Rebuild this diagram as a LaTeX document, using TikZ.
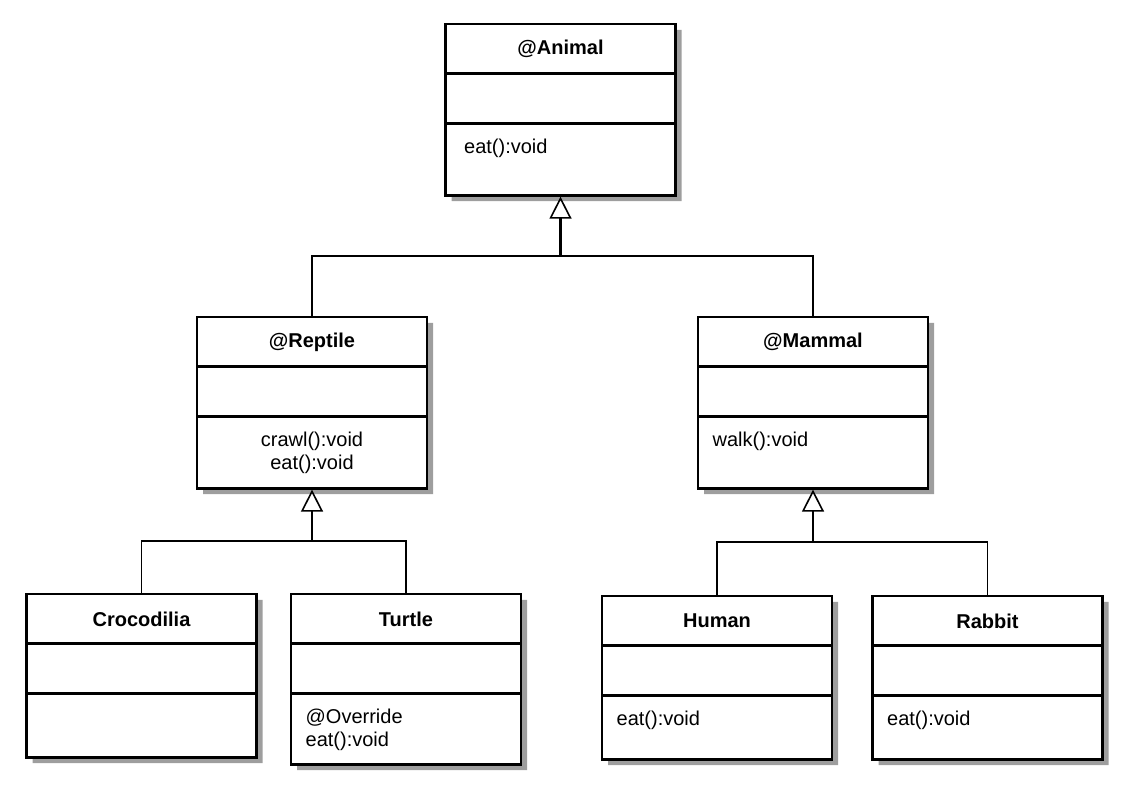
\documentclass[tikz,border=0pt]{standalone}
\usepackage{fontspec}
\setmainfont{Liberation Sans}
\usepackage{tikz}
\usetikzlibrary{shapes.multipart,arrows.meta,shadows}
\newcommand{\ctitle}[1]{\parbox[c][35.2pt][c]{172.5pt}{\centering\bfseries #1}}
\newcommand{\cattr}{\parbox[c][34.9pt]{172.5pt}{}}
\newcommand{\cmeth}[3][\raggedright\leftskip=11pt]{\parbox[c][#2][t]{172.5pt}{#1\rule{0pt}{21.5pt}#3}}

\begin{document}
\begin{tikzpicture}[x=0.75pt, y=-0.75pt,
	class/.style={rectangle split, rectangle split parts=3, draw, line width=2.2pt,
		inner sep=0pt, fill=white, anchor=north,
		drop shadow={shadow xshift=4.5pt, shadow yshift=-4.5pt, fill=black!38, opacity=1}},
	inherit/.style={draw, line width=1.6pt, -{Triangle[open, length=16.5pt, width=16.5pt, line width=1.2pt]}},
	branch/.style={draw, line width=1.1pt}]
	\useasboundingbox (0,0) rectangle (1138,785);
	\fontsize{15}{17.25}\selectfont

	\node[class] (animal) at (560.5,22.5) {\ctitle{@Animal}
		\nodepart{two}\cattr
		\nodepart{three}\cmeth[\raggedright\leftskip=14pt]{51.7pt}{eat():void}};
	\node[class] (reptile) at (312,315.5) {\ctitle{@Reptile}
		\nodepart{two}\cattr
		\nodepart{three}\cmeth[\centering]{51.7pt}{crawl():void\\eat():void}};
	\node[class] (mammal) at (813,315.5) {\ctitle{@Mammal}
		\nodepart{two}\cattr
		\nodepart{three}\cmeth{51.7pt}{walk():void}};
	\node[class] (croc) at (141.5,592.5) {\ctitle{Crocodilia}
		\nodepart{two}\cattr
		\nodepart{three}\cmeth{45.7pt}{}};
	\node[class] (turtle) at (406,592.5) {\ctitle{Turtle}
		\nodepart{two}\cattr
		\nodepart{three}\cmeth{51pt}{@Override\\eat():void}};
	\node[class] (human) at (717,594.5) {\ctitle{Human}
		\nodepart{two}\cattr
		\nodepart{three}\cmeth{45.7pt}{eat():void}};
	\node[class] (rabbit) at (987.5,594.5) {\ctitle{Rabbit}
		\nodepart{two}\cattr
		\nodepart{three}\cmeth{45.7pt}{eat():void}};

	\coordinate (j1) at (560.5,256);
	\coordinate (j2) at (312,541);
	\coordinate (j3) at (813,542);

	\draw[branch] (reptile.north) |- (j1) -| (mammal.north);
	\draw[inherit] (j1) -- (animal.south);
	\draw[branch] (croc.north) |- (j2) -| (turtle.north);
	\draw[inherit] (j2) -- (reptile.south);
	\draw[branch] (human.north) |- (j3) -| (rabbit.north);
	\draw[inherit] (j3) -- (mammal.south);
\end{tikzpicture}
\end{document}
